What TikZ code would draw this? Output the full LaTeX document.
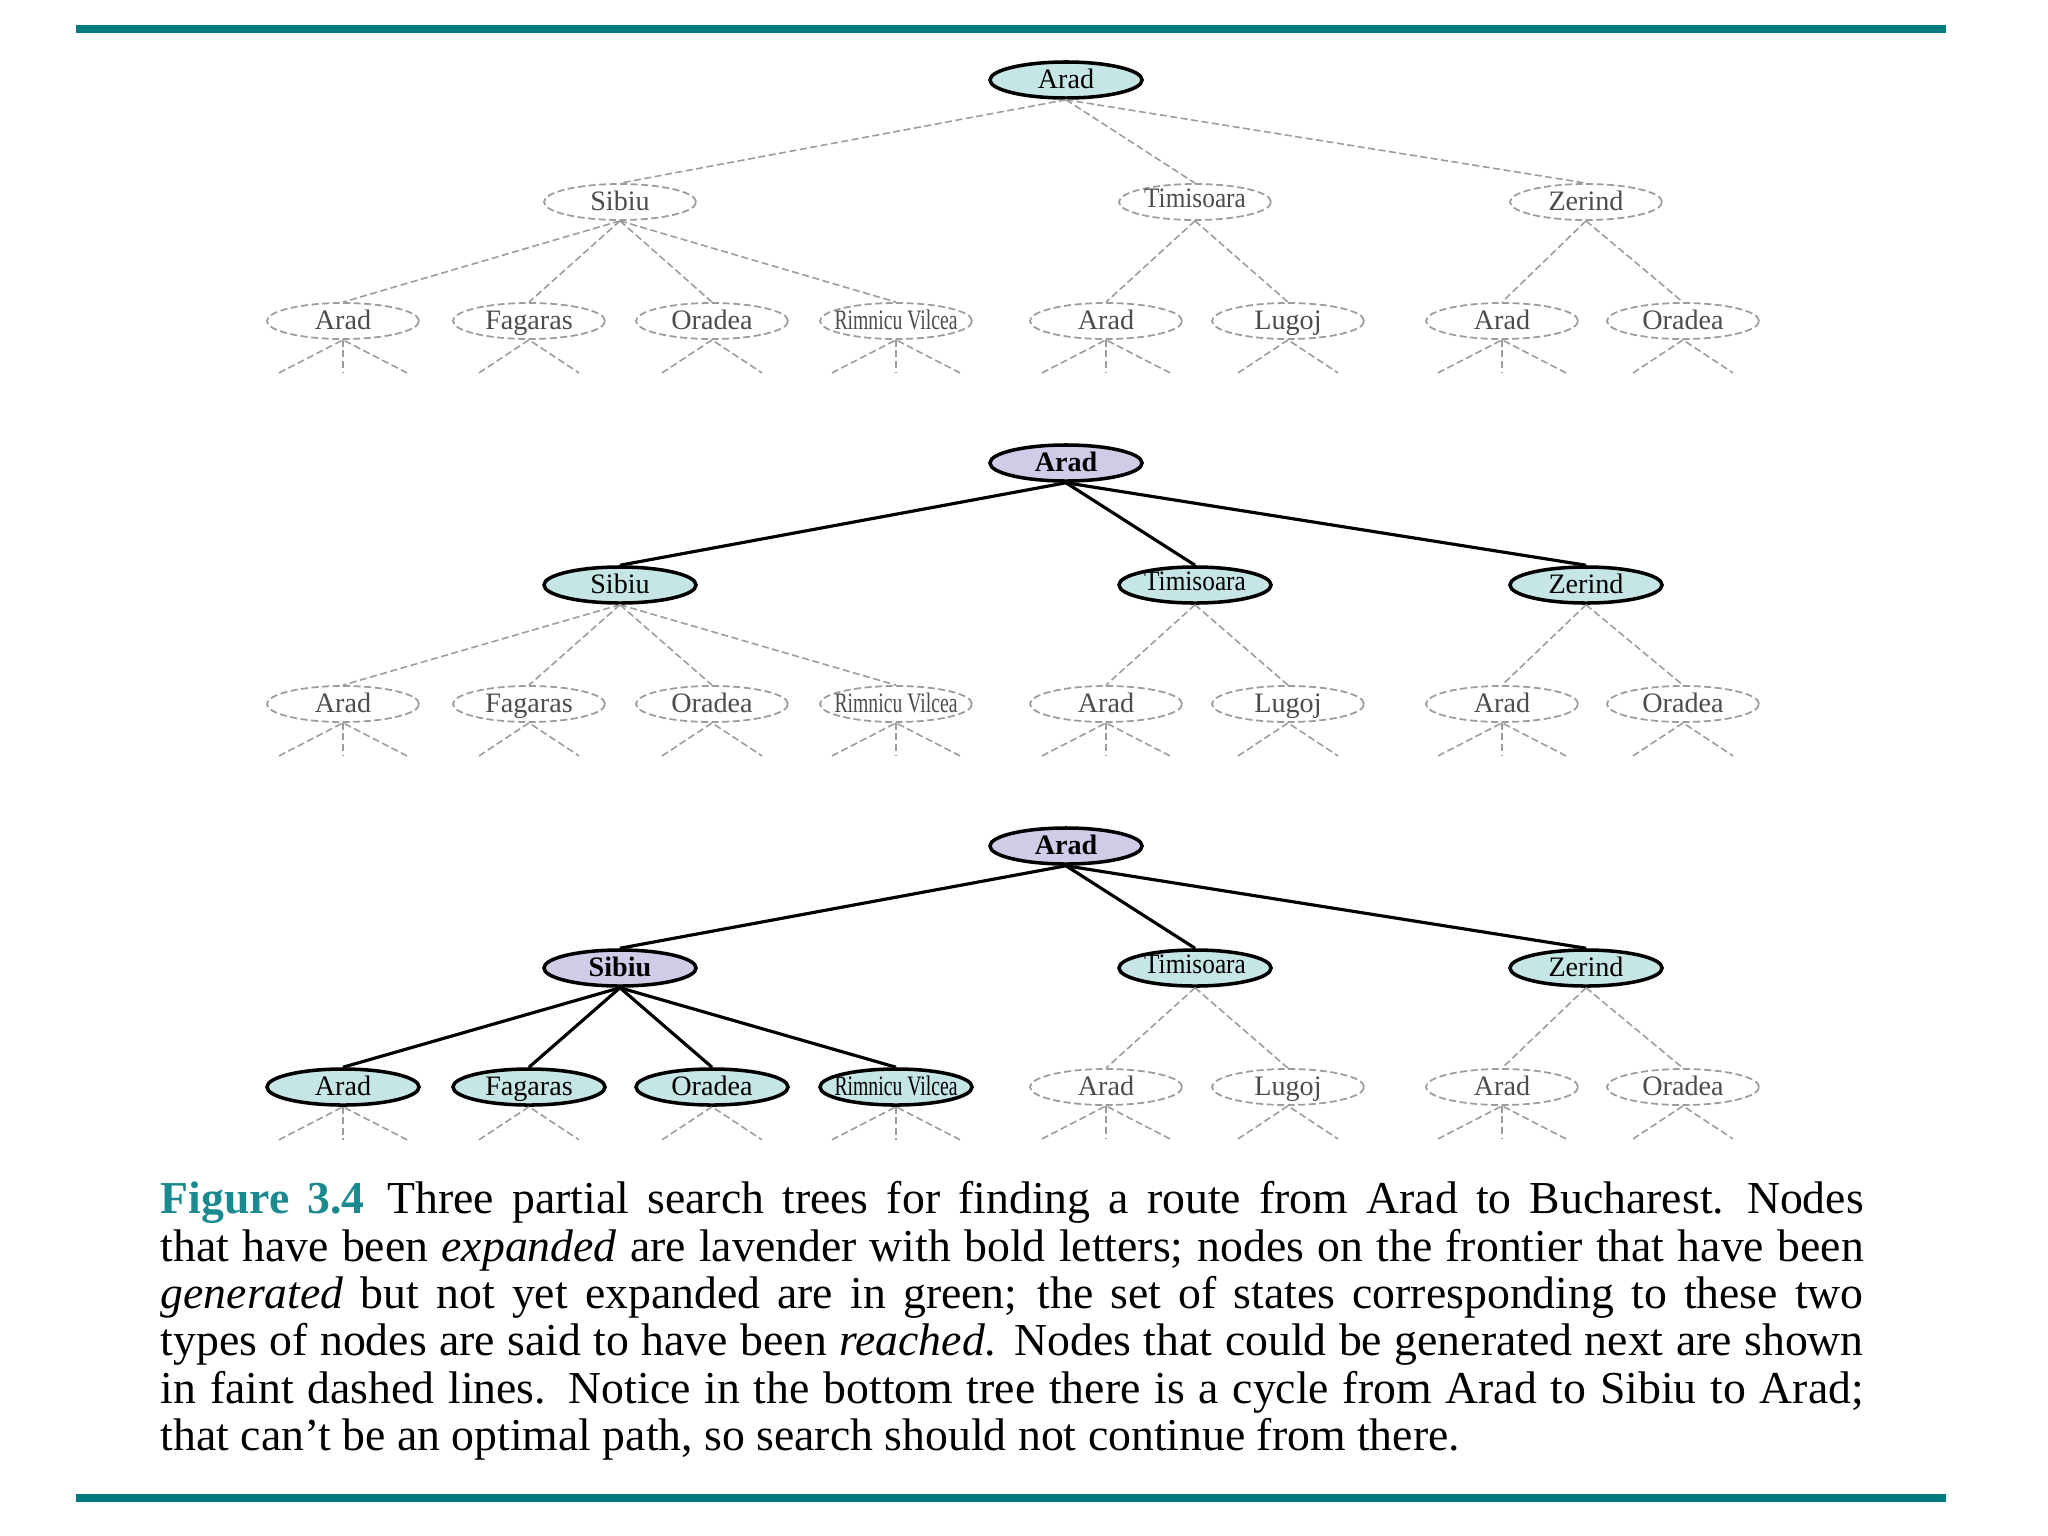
\documentclass[tikz,border=0pt]{standalone}
\usepackage{fontspec}
\setmainfont{Liberation Serif}
\usepackage{xcolor}
\usepackage{graphicx}
\usepackage{tikz}
\usetikzlibrary{shapes.geometric, positioning}

\definecolor{frontier}{HTML}{C6E5E5}
\definecolor{lavender}{HTML}{D0CCE8}
\definecolor{ruleteal}{HTML}{007A7F}
\definecolor{figteal}{HTML}{1B8A90}
\definecolor{faintgray}{HTML}{9C9C9C}
\newcommand{\cn}[1]{\makebox[0pt]{\rule[-0.4pt]{0pt}{5.8pt}\smash{#1}}}

\begin{document}
\begin{tikzpicture}[x=0.01cm, y=-0.01cm,
  city/.style={ellipse, inner sep=0pt, minimum width=1.52cm, minimum height=0.36cm,
    font=\fontsize{8}{9}\selectfont},
  faint/.style={city, draw=faintgray, line width=0.5pt, dash pattern=on 2pt off 1pt, text=black!70},
  gen/.style={city, draw, line width=1pt, fill=frontier},
  exp/.style={city, draw, line width=1pt, fill=lavender, font=\fontsize{8}{9}\selectfont\bfseries},
  faintedge/.style={draw=faintgray, line width=0.45pt, dash pattern=on 2pt off 1pt},
  solidedge/.style={draw=black, line width=0.9pt}]
\useasboundingbox (0,0) rectangle (2048,1536);
\draw[ruleteal, line width=0.08cm] (76,29) -- (1946,29);
\draw[ruleteal, line width=0.08cm] (76,1498) -- (1946,1498);

\foreach \t/\dy/\sroot/\ssib/\smid/\sleaf/\eroot/\esib in {
    1/0/gen/faint/faint/faint/faintedge/faintedge,
    2/383/exp/gen/gen/faint/solidedge/faintedge,
    3/766/exp/exp/gen/gen/solidedge/solidedge}
{
  \node[\sroot] (arad\t) at (1066, 80+\dy) {\cn{Arad}};
  \node[\ssib] (sib\t) at (620, 202+\dy) {\cn{Sibiu}};
  \node[\smid] (tim\t) at (1195, 202+\dy) {\cn{\raisebox{0.8pt}{\scalebox{0.9}[1]{Timisoara}}}};
  \node[\smid] (zer\t) at (1586, 202+\dy) {\cn{Zerind}};
  \foreach \c in {sib, tim, zer}
    \draw[\eroot] (arad\t.south) -- (\c\t.north);
  % leaves, each with its faint stubs
  \foreach \nm/\x/\lbl/\up/\st/\ed/\sp/\cv in {
      sa/343/Arad/sib/\sleaf/\esib/64/1,
      sf/529/Fagaras/sib/\sleaf/\esib/50/0,
      so/712/Oradea/sib/\sleaf/\esib/50/0,
      sr/896/{\scalebox{0.7}[1]{Rimnicu Vilcea}}/sib/\sleaf/\esib/64/1,
      ta/1106/Arad/tim/faint/faintedge/64/1,
      tl/1288/Lugoj/tim/faint/faintedge/50/0,
      za/1502/Arad/zer/faint/faintedge/64/1,
      zo/1683/Oradea/zer/faint/faintedge/50/0}
  {
    \node[\st] (\nm\t) at (\x, 321+\dy) {\cn{\lbl}};
    \draw[\ed] (\up\t.south) -- (\nm\t.north);
    \path (\nm\t.south) ++(-\sp,33) coordinate (\nm\t-l)
      ++(\sp,0) coordinate (\nm\t-c) ++(\sp,0) coordinate (\nm\t-r);
    \draw[faintedge] (\nm\t-l) -- (\nm\t.south) -- (\nm\t-r);
    \ifnum\cv=1 \draw[faintedge] (\nm\t.south) -- (\nm\t-c); \fi
  }
}

\node[anchor=north west, inner sep=0pt, text width=17.02cm, align=justify,
      font=\fontsize{13}{13.45}\selectfont] (caption) at (160,1181)
  {{\color{figteal}\bfseries Figure 3.4}\enspace Three partial search trees for finding a route from Arad to Bucharest.\enspace Nodes\linebreak
   that have been \emph{expanded} are lavender with bold letters; nodes on the frontier that have been\linebreak
   \emph{generated} but not yet expanded are in green; the set of states corresponding to these two\linebreak
   types of nodes are said to have been \emph{reached}. Nodes that could be generated next are shown\linebreak
   in faint dashed lines.\enspace Notice in the bottom tree there is a cycle from Arad to Sibiu to Arad;\linebreak
   that can’t be an optimal path, so search should not continue from there.};
\end{tikzpicture}
\end{document}
